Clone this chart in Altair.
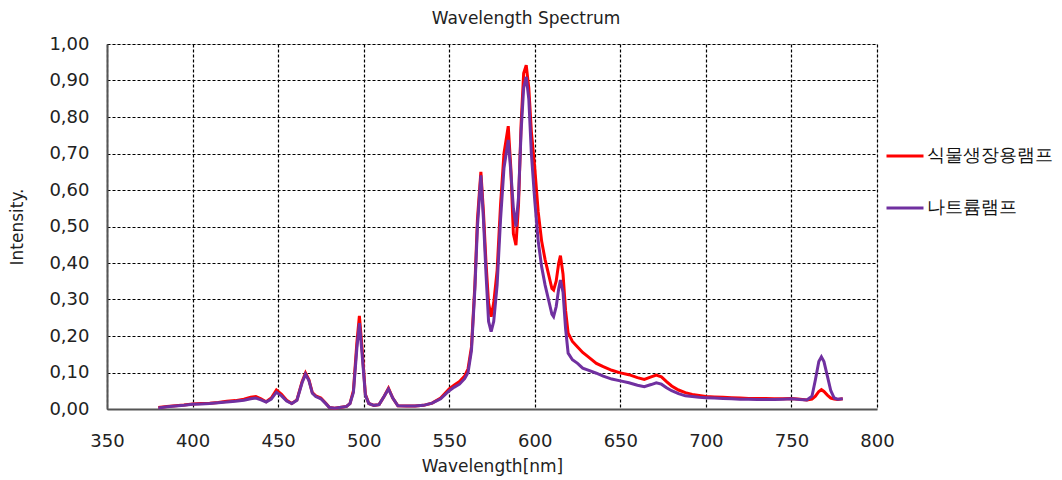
import altair as alt
import pandas as pd

# ---------------- data ----------------
series_names = ["식물생장용램프", "나트륨램프"]
series_colors = ["#FF0000", "#7030A0"]

wavelengths = [
    380, 385, 390, 395, 400, 405, 410, 415, 420, 425, 430, 434, 437, 440, 443, 446, 449, 452, 455, 458,
    461, 464, 466, 468, 470, 472, 475, 478, 480, 483, 486, 490, 492, 494, 496, 497.5, 499, 501, 503, 506,
    509, 512, 514.5, 517, 520, 525, 530, 535, 540, 545, 550, 553, 556, 559, 561, 563, 565, 566.5, 568.5, 570,
    571.5, 573, 574.5, 576, 578, 580, 582, 584.5, 586, 587.5, 589, 590.5, 592, 593.5, 595, 596.5, 598, 600,
    602, 604, 606, 608, 610, 611, 612.5, 614, 615, 616.5, 618, 619.5, 622, 625, 628, 632, 636, 640, 645, 650,
    655, 660, 664, 668, 671, 674, 677, 680, 684, 688, 692, 696, 700, 705, 710, 715, 720, 725, 730, 735,
    740, 745, 750, 755, 759, 762, 764, 766, 767.5, 769, 771, 773, 775, 777, 780,
]

plant_lamp = [
    0.004, 0.007, 0.009, 0.011, 0.014, 0.015, 0.016, 0.018, 0.021, 0.023, 0.027, 0.032, 0.034, 0.028, 0.020, 0.030, 0.052, 0.040, 0.024, 0.015,
    0.025, 0.075, 0.099, 0.080, 0.045, 0.036, 0.030, 0.015, 0.004, 0.002, 0.004, 0.007, 0.015, 0.050, 0.180, 0.255, 0.170, 0.040, 0.015, 0.010,
    0.012, 0.035, 0.057, 0.030, 0.009, 0.008, 0.008, 0.010, 0.016, 0.030, 0.055, 0.066, 0.075, 0.090, 0.110, 0.170, 0.340, 0.520, 0.650, 0.540,
    0.400, 0.290, 0.253, 0.290, 0.380, 0.560, 0.700, 0.775, 0.660, 0.480, 0.449, 0.560, 0.780, 0.920, 0.942, 0.880, 0.760, 0.660,
    0.540, 0.460, 0.410, 0.370, 0.330, 0.326, 0.350, 0.400, 0.420, 0.370, 0.270, 0.208, 0.185, 0.170, 0.155, 0.140, 0.125, 0.116, 0.106, 0.099,
    0.094, 0.086, 0.081, 0.088, 0.093, 0.088, 0.075, 0.063, 0.052, 0.045, 0.040, 0.037, 0.034, 0.033, 0.032, 0.031, 0.030, 0.029, 0.029, 0.029,
    0.028, 0.028, 0.029, 0.027, 0.025, 0.027, 0.035, 0.048, 0.053, 0.048, 0.038, 0.030, 0.027, 0.026, 0.028,
]

sodium_lamp = [
    0.003, 0.006, 0.008, 0.010, 0.013, 0.014, 0.015, 0.017, 0.019, 0.021, 0.024, 0.028, 0.030, 0.025, 0.019, 0.027, 0.046, 0.036, 0.022, 0.015,
    0.024, 0.072, 0.095, 0.078, 0.043, 0.034, 0.028, 0.014, 0.004, 0.002, 0.004, 0.007, 0.015, 0.045, 0.165, 0.235, 0.155, 0.038, 0.015, 0.010,
    0.012, 0.035, 0.055, 0.030, 0.009, 0.008, 0.008, 0.010, 0.016, 0.028, 0.050, 0.060, 0.068, 0.083, 0.100, 0.160, 0.330, 0.500, 0.640, 0.520,
    0.370, 0.240, 0.212, 0.240, 0.340, 0.520, 0.660, 0.737, 0.650, 0.550, 0.500, 0.580, 0.760, 0.880, 0.910, 0.850, 0.700, 0.570,
    0.460, 0.390, 0.340, 0.300, 0.260, 0.253, 0.280, 0.330, 0.353, 0.320, 0.220, 0.153, 0.135, 0.125, 0.112, 0.105, 0.098, 0.090, 0.082, 0.077,
    0.072, 0.065, 0.061, 0.067, 0.072, 0.068, 0.058, 0.050, 0.042, 0.036, 0.034, 0.032, 0.031, 0.030, 0.029, 0.028, 0.027, 0.027, 0.026, 0.026,
    0.026, 0.027, 0.028, 0.026, 0.025, 0.035, 0.080, 0.130, 0.143, 0.130, 0.090, 0.050, 0.030, 0.027, 0.028,
]

x_ticks = [350, 400, 450, 500, 550, 600, 650, 700, 750, 800]
y_ticks = [0.0, 0.1, 0.2, 0.3, 0.4, 0.5, 0.6, 0.7, 0.8, 0.9, 1.0]

# ---------------- build table ----------------
rows = []
for name, vals in zip(series_names, [plant_lamp, sodium_lamp]):
    for w, v in zip(wavelengths, vals):
        rows.append({"wavelength": w, "intensity": v, "lamp": name})
df = pd.DataFrame(rows)

FONT = "DejaVu Sans"

color = alt.Color(
    "lamp:N",
    scale=alt.Scale(domain=series_names, range=series_colors),
    legend=alt.Legend(
        title=None,
        orient="none",
        legendX=778,
        legendY=92,
        symbolType="stroke",
        symbolSize=1369,
        symbolStrokeWidth=3,
        labelFont=FONT,
        labelFontSize=18,
        labelColor="#111",
        labelOffset=2,
        rowPadding=23,
        labelLimit=300,
    ),
)

x = alt.X(
    "wavelength:Q",
    scale=alt.Scale(domain=[350, 800], nice=False, zero=False),
    axis=alt.Axis(
        values=x_ticks,
        title="Wavelength[nm]",
        grid=True,
        gridDash=[3, 2],
        gridColor="#000",
        gridWidth=1.2,
        ticks=False,
        tickSize=0,
        domainColor="#555",
        domainWidth=2,
        labelFont=FONT,
        labelFontSize=18,
        labelColor="#222",
        labelPadding=23,
        labelFlush=False,
        titleFont=FONT,
        titleFontSize=17,
        titleFontWeight="normal",
        titleColor="#222",
        titlePadding=8,
    ),
)

y = alt.Y(
    "intensity:Q",
    scale=alt.Scale(domain=[0, 1], nice=False),
    axis=alt.Axis(
        values=y_ticks,
        title="Intensity.",
        labelExpr="replace(format(datum.value, '.2f'), '.', ',')",
        grid=True,
        gridDash=[3, 2],
        gridColor="#000",
        gridWidth=1.2,
        ticks=False,
        tickSize=0,
        domainColor="#555",
        domainWidth=2,
        labelFont=FONT,
        labelFontSize=18,
        labelColor="#222",
        labelPadding=18,
        labelFlush=False,
        titleFont=FONT,
        titleFontSize=17,
        titleFontWeight="normal",
        titleColor="#222",
        titlePadding=22,
    ),
)

base = alt.Chart(df).encode(x=x, y=y, color=color)

red_layer = base.transform_filter(alt.datum.lamp == series_names[0]).mark_line(strokeWidth=3)
purple_layer = base.transform_filter(alt.datum.lamp == series_names[1]).mark_line(strokeWidth=3)

chart = (
    alt.layer(red_layer, purple_layer)
    .properties(
        width=770,
        height=365,
        autosize=alt.AutoSizeParams(type="none"),
        padding={"left": 107, "top": 44, "right": 185, "bottom": 71},
        title=alt.TitleParams(
            "Wavelength Spectrum",
            font=FONT,
            fontSize=17,
            fontWeight="normal",
            color="#222",
            dx=34,
            offset=7,
        ),
    )
    .configure_view(stroke="#777", strokeWidth=1.5)
    .configure(background="white")
)

chart.save("out.html", embed_options={"renderer": "svg", "actions": False})
